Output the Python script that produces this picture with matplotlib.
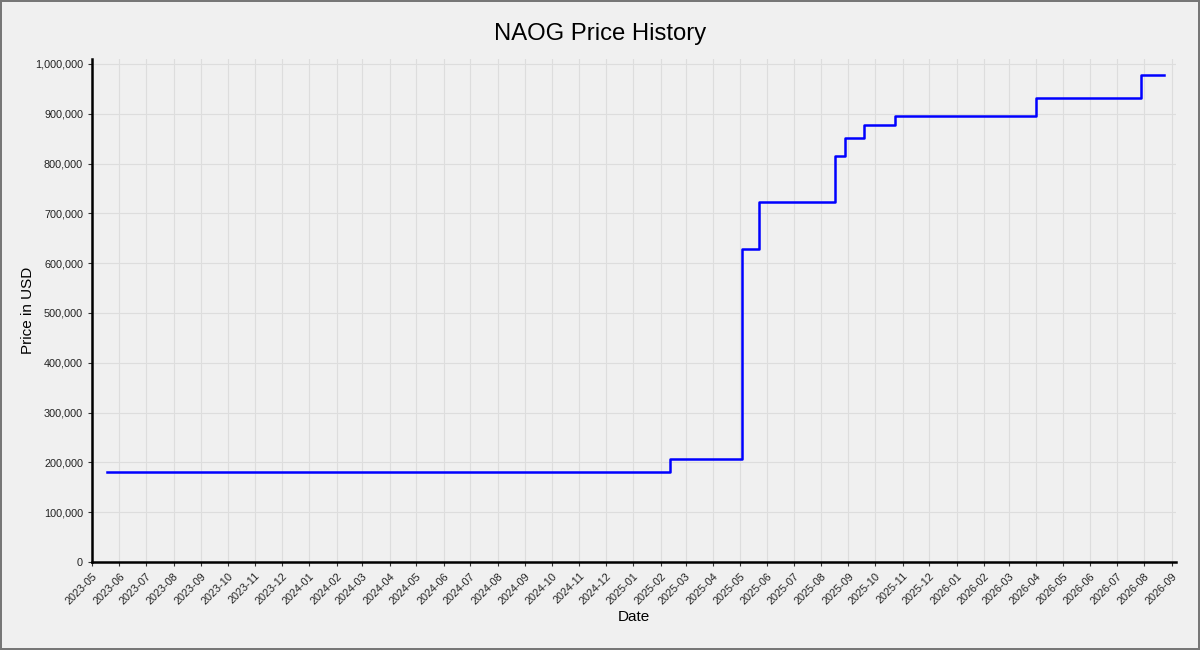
import matplotlib
matplotlib.use("Agg")
import matplotlib.pyplot as plt
import matplotlib.dates as mdates
import matplotlib.ticker as mticker
import pandas as pd

plt.rcParams['font.family'] = ['Liberation Sans', 'DejaVu Sans']

# price change dates and the price from that date on
dates = ['2023-05-18', '2025-02-11', '2025-05-04', '2025-05-23', '2025-08-17',
         '2025-08-28', '2025-09-18', '2025-10-24', '2026-04-01', '2026-07-28',
         '2026-08-23']
prices = [180000, 207000, 628000, 722000, 816000,
          852000, 877000, 895000, 931000, 978000,
          978000]

dates = pd.to_datetime(dates)

fig = plt.figure(figsize=(12, 6.5), dpi=100, facecolor='#f0f0f0',
                 edgecolor='#777777', linewidth=1.5)
ax = fig.add_axes([0.0767, 0.1354, 0.9035, 0.7738])
ax.set_facecolor('#f0f0f0')

ax.step(dates, prices, where='post', color='#0000ff', linewidth=1.8)

ax.set_xlim(pd.Timestamp('2023-05-01'), pd.Timestamp('2026-09-06'))
ax.set_ylim(0, 1010000)

ax.xaxis.set_major_locator(mdates.MonthLocator())
ax.xaxis.set_major_formatter(mdates.DateFormatter('%Y-%m'))
ax.yaxis.set_major_locator(mticker.MultipleLocator(100000))
ax.yaxis.set_major_formatter(mticker.FuncFormatter(lambda v, p: f'{int(v):,}'))

plt.setp(ax.get_xticklabels(), rotation=45, ha='right', rotation_mode='anchor')
ax.tick_params(axis='both', labelsize=7.8, length=3, color='#333333',
               labelcolor='#222222')

ax.grid(True, color='#dddddd', linewidth=0.8)
ax.set_axisbelow(True)

for s in ['top', 'right']:
    ax.spines[s].set_visible(False)
for s in ['left', 'bottom']:
    ax.spines[s].set_linewidth(1.8)
    ax.spines[s].set_color('black')

fig.text(0.5, 0.948, 'NAOG Price History', fontsize=17.2, ha='center', va='center')
ax.set_xlabel('Date', fontsize=11, labelpad=3)
ax.set_ylabel('Price in USD', fontsize=11)
ax.yaxis.set_label_coords(-0.053, 0.5)

fig.savefig('out.png', dpi=100, facecolor=fig.get_facecolor(),
            edgecolor=fig.get_edgecolor())
